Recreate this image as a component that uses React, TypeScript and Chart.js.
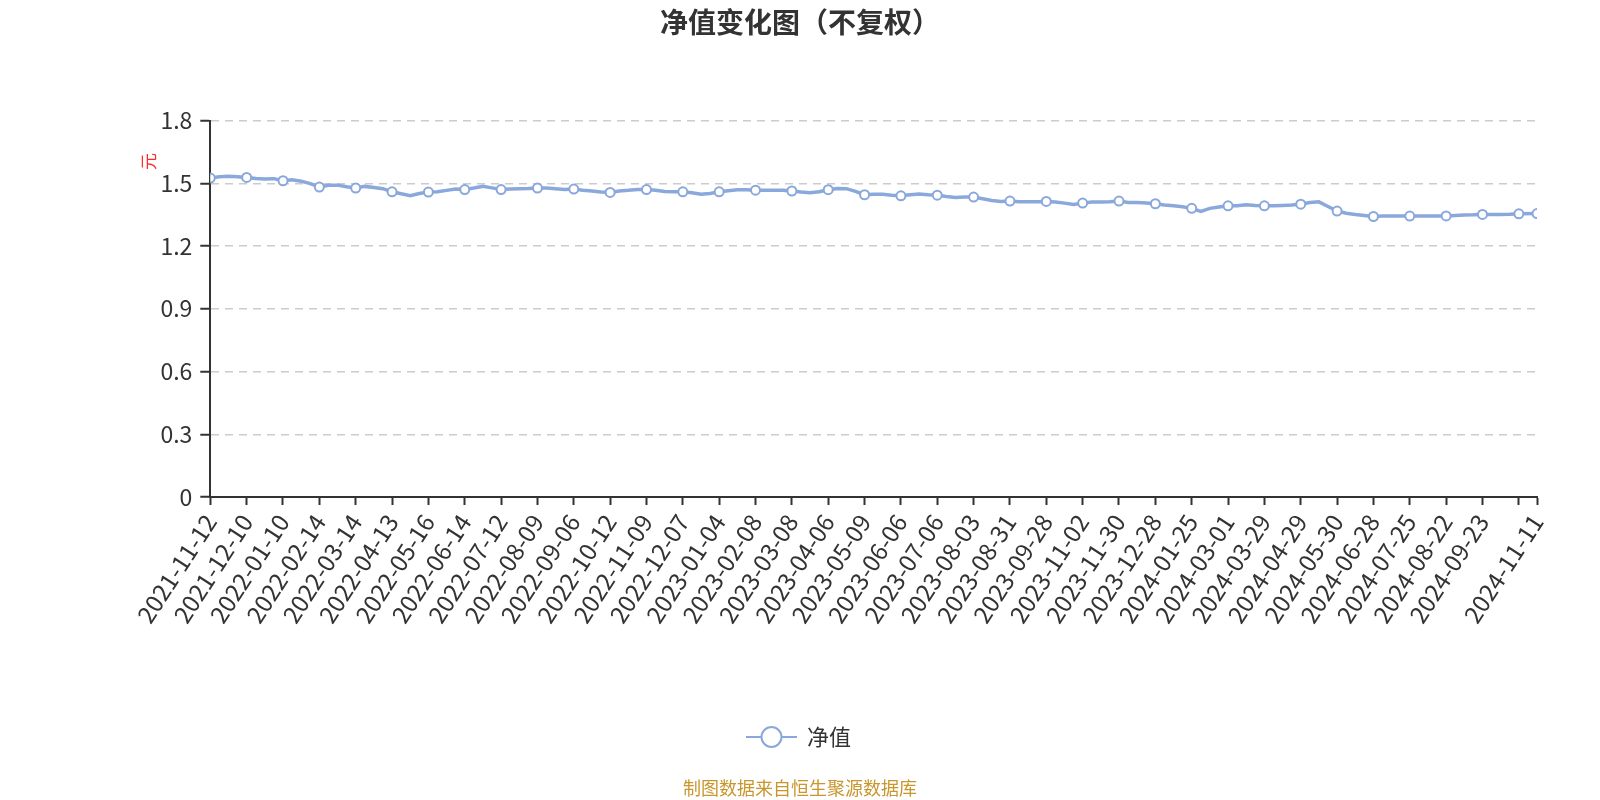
import React, { useEffect, useRef } from 'react';
import { Chart, registerables } from 'chart.js';
import type { Plugin } from 'chart.js';

Chart.register(...registerables);

// dates shown under the x axis, one every 20 trading days; the last one is the final day
const tickLabels = [
  '2021-11-12', '2021-12-10', '2022-01-10', '2022-02-14', '2022-03-14', '2022-04-13',
  '2022-05-16', '2022-06-14', '2022-07-12', '2022-08-09', '2022-09-06', '2022-10-12',
  '2022-11-09', '2022-12-07', '2023-01-04', '2023-02-08', '2023-03-08', '2023-04-06',
  '2023-05-09', '2023-06-06', '2023-07-06', '2023-08-03', '2023-08-31', '2023-09-28',
  '2023-11-02', '2023-11-30', '2023-12-28', '2024-01-25', '2024-03-01', '2024-03-29',
  '2024-04-29', '2024-05-30', '2024-06-28', '2024-07-25', '2024-08-22', '2024-09-23',
  '2024-11-11',
];

const labelEvery = 20; // trading days between labels
const dayStep = 5; // trading days between samples below
const lastDay = 730;
const lastValue = 1.355;

// 净值, sampled every 5 trading days from day 0 to day 720
const navValues = [
  1.525, 1.531, 1.533, 1.531, 1.528, 1.523, 1.520, 1.522, 1.512, 1.517, 1.510, 1.498,
  1.482, 1.490, 1.491, 1.483, 1.477, 1.485, 1.480, 1.474, 1.459, 1.450, 1.440, 1.451,
  1.458, 1.459, 1.466, 1.472, 1.470, 1.477, 1.485, 1.478, 1.470, 1.472, 1.474, 1.475,
  1.477, 1.477, 1.474, 1.470, 1.472, 1.467, 1.463, 1.458, 1.456, 1.463, 1.466, 1.470,
  1.470, 1.466, 1.461, 1.459, 1.459, 1.455, 1.447, 1.451, 1.459, 1.464, 1.469, 1.469,
  1.467, 1.467, 1.466, 1.467, 1.463, 1.458, 1.455, 1.459, 1.469, 1.475, 1.474, 1.461,
  1.445, 1.447, 1.447, 1.443, 1.440, 1.445, 1.448, 1.445, 1.443, 1.437, 1.432, 1.434,
  1.434, 1.426, 1.418, 1.413, 1.415, 1.411, 1.411, 1.411, 1.413, 1.410, 1.405, 1.399,
  1.405, 1.410, 1.410, 1.411, 1.415, 1.408, 1.408, 1.405, 1.402, 1.396, 1.392, 1.388,
  1.380, 1.365, 1.380, 1.386, 1.392, 1.392, 1.397, 1.394, 1.392, 1.392, 1.394, 1.396,
  1.400, 1.408, 1.411, 1.389, 1.367, 1.357, 1.351, 1.346, 1.341, 1.343, 1.344, 1.344,
  1.343, 1.343, 1.344, 1.344, 1.344, 1.346, 1.348, 1.349, 1.351, 1.351, 1.351, 1.352,
  1.354,
];

const yTicks = [0, 0.3, 0.6, 0.9, 1.2, 1.5, 1.8];

const LINE_COLOR = '#8aa8dc';
const FONT = '"Noto Sans CJK SC", "Microsoft YaHei", sans-serif';

// title, unit, legend and source note
const decorations: Plugin<'line'> = {
  id: 'decorations',
  afterDraw(chart) {
    const { ctx, chartArea, width } = chart;
    ctx.save();
    ctx.textBaseline = 'middle';

    ctx.fillStyle = '#333';
    ctx.font = `bold 28px ${FONT}`;
    ctx.textAlign = 'center';
    ctx.fillText('净值变化图（不复权）', width / 2, 22);

    ctx.save();
    ctx.translate(chartArea.left - 62, chartArea.top + 41);
    ctx.rotate(-Math.PI / 2);
    ctx.fillStyle = '#ff2b2b';
    ctx.font = `17px ${FONT}`;
    ctx.fillText('元', 0, 0);
    ctx.restore();

    // legend: line with hollow circle
    const ly = 737;
    ctx.strokeStyle = LINE_COLOR;
    ctx.lineWidth = 2;
    ctx.beginPath();
    ctx.moveTo(746, ly);
    ctx.lineTo(797, ly);
    ctx.stroke();
    ctx.beginPath();
    ctx.arc(771.5, ly, 10, 0, Math.PI * 2);
    ctx.fillStyle = '#fff';
    ctx.fill();
    ctx.stroke();
    ctx.fillStyle = '#333';
    ctx.font = `22px ${FONT}`;
    ctx.textAlign = 'left';
    ctx.fillText('净值', 807, ly);

    ctx.fillStyle = '#c8962d';
    ctx.font = `18px ${FONT}`;
    ctx.textAlign = 'center';
    ctx.fillText('制图数据来自恒生聚源数据库', width / 2, 788);
    ctx.restore();
  },
};

const App: React.FC = () => {
  const chartRef = useRef<HTMLCanvasElement>(null);
  const chartInstance = useRef<Chart | null>(null);

  useEffect(() => {
    if (!chartRef.current) return;
    if (chartInstance.current) chartInstance.current.destroy();

    const points = navValues.map((v, i) => ({ x: i * dayStep, y: v }));
    points.push({ x: lastDay, y: lastValue });

    chartInstance.current = new Chart(chartRef.current, {
      type: 'line',
      data: {
        datasets: [
          {
            label: '净值',
            data: points,
            borderColor: LINE_COLOR,
            borderWidth: 3.5,
            tension: 0,
            pointBackgroundColor: '#fff',
            pointBorderColor: LINE_COLOR,
            pointBorderWidth: 2,
            pointRadius: (c: any) => {
              const x = c.raw ? c.raw.x : -1;
              return x % labelEvery === 0 || x === lastDay ? 4.5 : 0;
            },
            pointHoverRadius: 0,
          },
        ],
      },
      options: {
        responsive: true,
        maintainAspectRatio: false,
        animation: false,
        devicePixelRatio: 1,
        layout: { padding: { top: 120.5, right: 63, bottom: 0, left: 0 } },
        plugins: {
          legend: { display: false },
          title: { display: false },
          tooltip: { enabled: false },
        },
        scales: {
          x: {
            type: 'linear',
            min: 0,
            max: lastDay,
            afterBuildTicks: (scale) => {
              const ticks = [];
              for (let d = 0; d <= lastDay; d += labelEvery) ticks.push({ value: d });
              if (ticks[ticks.length - 1].value !== lastDay) ticks.push({ value: lastDay });
              scale.ticks = ticks;
            },
            afterFit: (scale) => {
              scale.height = 303;
            },
            ticks: {
              autoSkip: false,
              minRotation: 57,
              maxRotation: 57,
              color: '#333',
              padding: 4,
              font: { size: 24, family: FONT },
              callback: (value) => {
                const v = Number(value);
                if (v === lastDay) return tickLabels[tickLabels.length - 1];
                const k = v / labelEvery;
                return k < tickLabels.length - 1 ? tickLabels[k] : '';
              },
            },
            grid: {
              drawOnChartArea: false,
              tickLength: 8,
              tickColor: '#333',
              tickWidth: 2,
            },
            border: { color: '#333', width: 2 },
          },
          y: {
            type: 'linear',
            min: 0,
            max: 1.8,
            afterBuildTicks: (scale) => {
              scale.ticks = yTicks.map((v) => ({ value: v }));
            },
            afterFit: (scale) => {
              scale.width = 210.3;
            },
            ticks: {
              color: '#333',
              padding: 8,
              font: { size: 23, family: FONT },
              callback: (value) => String(value),
            },
            grid: {
              color: '#cccccc',
              lineWidth: 1.5,
              tickLength: 10,
              tickColor: '#333',
              tickWidth: 2,
            },
            border: { display: true, color: '#333', width: 2, dash: [8, 6] },
          },
        },
      },
      plugins: [decorations],
    });

    return () => {
      if (chartInstance.current) {
        chartInstance.current.destroy();
        chartInstance.current = null;
      }
    };
  }, []);

  return (
    <div style={{ position: 'fixed', left: 0, top: 0, width: 1600, height: 800, background: '#fff' }}>
      <canvas ref={chartRef} />
    </div>
  );
};

export default App;
